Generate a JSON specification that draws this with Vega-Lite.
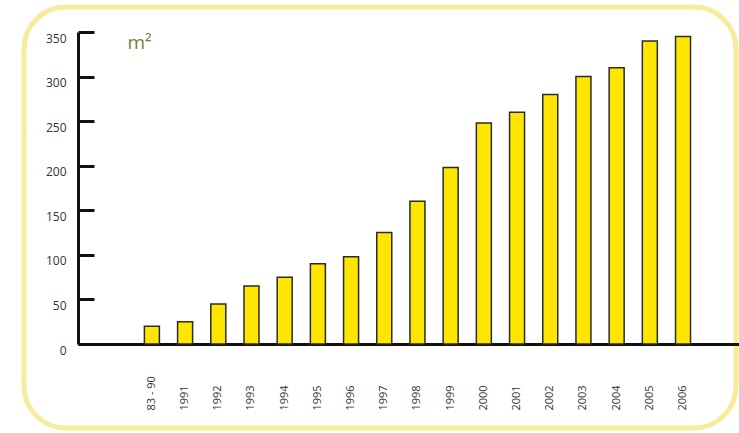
{
  "$schema": "https://vega.github.io/schema/vega-lite/v6.json",
  "width": 712,
  "height": 421,
  "autosize": {"type": "none"},
  "padding": {"left": 24, "top": 7, "right": 3, "bottom": 5},
  "background": "white",
  "config": {
    "view": {"stroke": "#F6EC9E", "strokeWidth": 5, "cornerRadius": 42},
    "font": "Open Sans"
  },
  "data": {
    "values": [
      {"year": "83 - 90", "area": 20},
      {"year": "1991", "area": 25},
      {"year": "1992", "area": 45},
      {"year": "1993", "area": 65},
      {"year": "1994", "area": 75},
      {"year": "1995", "area": 90},
      {"year": "1996", "area": 98},
      {"year": "1997", "area": 125},
      {"year": "1998", "area": 160},
      {"year": "1999", "area": 198},
      {"year": "2000", "area": 248},
      {"year": "2001", "area": 260},
      {"year": "2002", "area": 280},
      {"year": "2003", "area": 300},
      {"year": "2004", "area": 310},
      {"year": "2005", "area": 340},
      {"year": "2006", "area": 345}
    ]
  },
  "mark": {"type": "bar", "fill": "#FFE600", "stroke": "#2b2b2b", "strokeWidth": 1.5},
  "encoding": {
    "x": {
      "field": "year",
      "type": "ordinal",
      "sort": null,
      "scale": {
        "domain": ["pad1", "pad2", "83 - 90", "1991", "1992", "1993", "1994", "1995", "1996", "1997", "1998", "1999", "2000", "2001", "2002", "2003", "2004", "2005", "2006"],
        "range": [54, 715],
        "paddingInner": 0.548,
        "paddingOuter": 0.73,
        "align": 0
      },
      "axis": {
        "title": null,
        "orient": "bottom",
        "offset": -84,
        "ticks": false,
        "values": ["83 - 90", "1991", "1992", "1993", "1994", "1995", "1996", "1997", "1998", "1999", "2000", "2001", "2002", "2003", "2004", "2005", "2006"],
        "domainColor": "#111111",
        "domainWidth": 3,
        "labelAngle": -90,
        "labelAlign": "left",
        "labelBaseline": "middle",
        "labelPadding": 66,
        "labelFontSize": 11,
        "labelColor": "#333333",
        "grid": false
      }
    },
    "y": {
      "field": "area",
      "type": "quantitative",
      "scale": {"domain": [0, 350], "range": [337, 25], "nice": false},
      "axis": {
        "title": "m²",
        "titleAngle": 0,
        "titleAlign": "left",
        "titleBaseline": "alphabetic",
        "titleX": 49,
        "titleY": 41,
        "titleFontSize": 19,
        "titleFontWeight": "normal",
        "titleColor": "#7f7a38",
        "offset": -54,
        "values": [0, 50, 100, 150, 200, 250, 300, 350],
        "tickSize": -16,
        "tickWidth": 3,
        "tickColor": "#111111",
        "domainColor": "#111111",
        "domainWidth": 3,
        "labelPadding": 28,
        "labelOffset": 6,
        "labelFontSize": 12,
        "labelColor": "#333333",
        "grid": false
      }
    }
  }
}
